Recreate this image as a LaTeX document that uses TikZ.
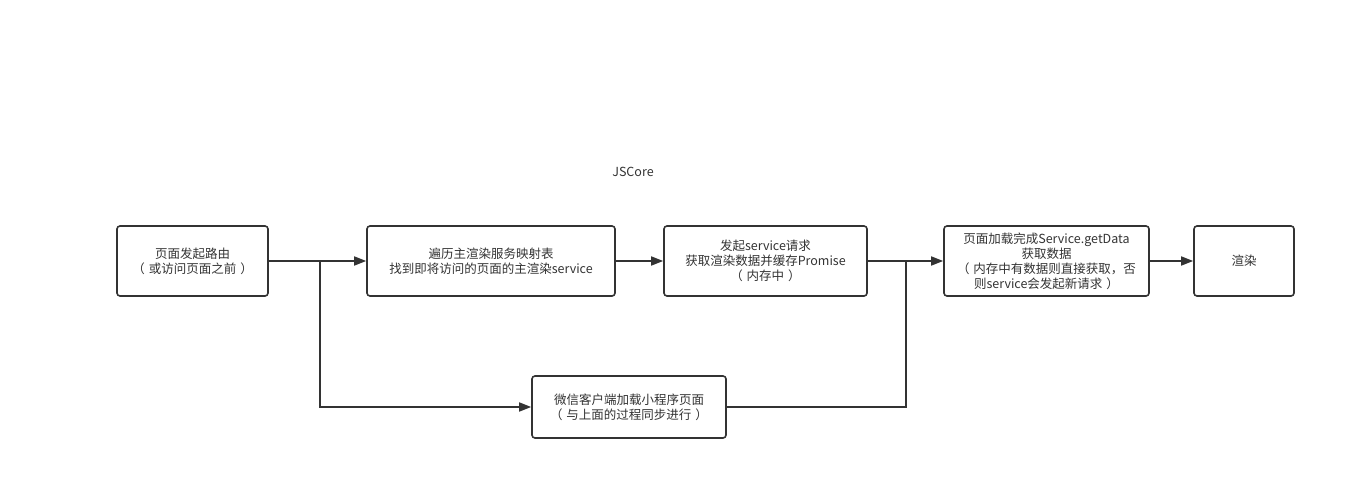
\documentclass[tikz,border=0pt]{standalone}
\usepackage{fontspec}
\setmainfont{Noto Sans CJK SC}
\usetikzlibrary{arrows.meta}
\definecolor{ink}{HTML}{333333}
\newcommand{\lp}{（\hspace{4pt}}
\newcommand{\rp}{\hspace{4pt}）}
\begin{document}
\begin{tikzpicture}[x=1pt,y=-1pt,
  box/.style={draw=ink,line width=1.6pt,rounded corners=3pt,fill=white,align=center,
    text=ink,font=\fontsize{12.5}{15}\selectfont,inner sep=0pt},
  conn/.style={draw=ink,line width=1.6pt},
  arr/.style={conn,-{Triangle[length=12pt,width=9pt]}}]
\useasboundingbox[fill=white] (0,0) rectangle (1355,501);
\node[font=\fontsize{12.5}{15}\selectfont,text=ink] (title) at (633,172) {JSCore};
\node[box,minimum width=151pt,minimum height=70pt] (a) at (192.5,261) {页面发起路由\\\lp 或访问页面之前\rp};
\node[box,minimum width=248pt,minimum height=70pt] (b) at (491,261) {遍历主渲染服务映射表\\找到即将访问的页面的主渲染service};
\node[box,minimum width=203pt,minimum height=70pt] (c) at (765.5,261) {发起service请求\\获取渲染数据并缓存Promise\\\lp 内存中\rp};
\node[box,minimum width=205pt,minimum height=70pt] (d) at (1046.5,261) {页面加载完成Service.getData\\获取数据\\\lp 内存中有数据则直接获取，否\\则service会发起新请求\rp};
\node[box,minimum width=100pt,minimum height=70pt] (e) at (1244,261) {渲染};
\node[box,minimum width=194pt,minimum height=62pt] (f) at (629,407) {微信客户端加载小程序页面\\\lp 与上面的过程同步进行\rp};
\coordinate (j1) at (320,261);
\coordinate (j2) at (906,261);
\draw[arr] (a) -- (b);
\draw[arr] (b) -- (c);
\draw[arr] (c) -- (d);
\draw[arr] (d) -- (e);
\draw[arr] (j1) |- (f);
\draw[conn] (f) -| (j2);
\end{tikzpicture}
\end{document}
